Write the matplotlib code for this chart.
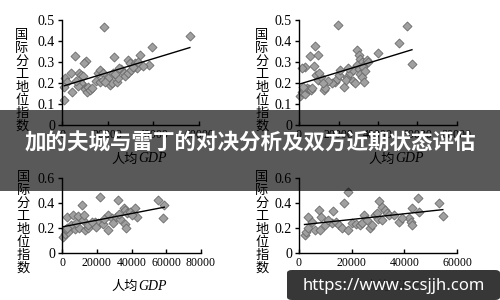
import numpy as np
import matplotlib
matplotlib.use('Agg')
import matplotlib.pyplot as plt
from matplotlib.patches import Rectangle, FancyBboxPatch

plt.rcParams['font.family'] = ['Liberation Serif', 'Noto Sans CJK SC']

# data (x = per-capita GDP, y = index)
tl_x = [18500, 56000, 39500, 34200, 22900, 5700, 10400, 9800, 38100, 29000, 29600, 32000,
        32700, 3900, 7500, 8400, 9000, 1300, 2000, 1000, 4200, 1000, 9200, 10000, 11000,
        11500, 12200, 13000, 8500, 7000, 6000, 15800, 16800, 17800, 15000, 16500, 18000,
        21000, 22000, 24000, 24500, 22200, 23000, 26000, 27000, 27500, 29000, 30000, 25000,
        31000, 20000, 19000, 33500, 35500]
tl_y = [0.465, 0.424, 0.37, 0.333, 0.325, 0.328, 0.306, 0.294, 0.286, 0.31, 0.296, 0.294,
        0.27, 0.249, 0.247, 0.238, 0.232, 0.224, 0.206, 0.18, 0.159, 0.119, 0.19, 0.17, 0.155,
        0.18, 0.165, 0.175, 0.2, 0.185, 0.21, 0.25, 0.262, 0.248, 0.21, 0.205, 0.214,
        0.19, 0.2, 0.205, 0.225, 0.25, 0.245, 0.268, 0.25, 0.232, 0.248, 0.26, 0.27,
        0.275, 0.225, 0.205, 0.3, 0.28]

tr_x = [19700, 54700, 50500, 40000, 57200, 7900, 5700, 9600, 2900, 1500, 7400, 8500, 9500,
        11000, 10000, 600, 1500, 2500, 3000, 4000, 5000, 6000, 6600, 2000, 12500, 13200,
        18300, 19000, 20000, 20700, 22600, 24300, 23800, 26000, 27500, 29400, 30200, 31000,
        31900, 29500, 30300, 31000, 32000, 32800, 33500, 34200, 35000, 32500, 33500, 16700,
        27500, 28500, 25000, 14500, 12000]
tr_y = [0.476, 0.471, 0.392, 0.344, 0.29, 0.376, 0.328, 0.333, 0.278, 0.27, 0.281, 0.24, 0.215,
        0.23, 0.25, 0.14, 0.155, 0.165, 0.15, 0.175, 0.17, 0.165, 0.176, 0.18, 0.167, 0.176,
        0.205, 0.22, 0.24, 0.26, 0.18, 0.23, 0.215, 0.25, 0.26, 0.357, 0.335, 0.315,
        0.3, 0.285, 0.265, 0.245, 0.23, 0.206, 0.29, 0.31, 0.3, 0.275, 0.255, 0.2,
        0.21, 0.2, 0.27, 0.21, 0.2]

bl_x = [21900, 32000, 55400, 58900, 58300, 11700, 2700, 6500, 9200, 35700, 36500, 37400,
        42000, 43000, 600, 1500, 3500, 2200, 7500, 10000, 13000, 15000, 19000, 21000, 23500,
        26500, 26500, 28500, 31000, 33400, 36000, 37000, 15000, 17300, 5000, 8000, 12000,
        24000, 29500, 33000, 39000, 40500, 12500, 3000, 19500]
bl_y = [0.45, 0.42, 0.423, 0.383, 0.281, 0.383, 0.29, 0.3, 0.295, 0.36, 0.34, 0.32,
        0.36, 0.29, 0.13, 0.15, 0.17, 0.19, 0.19, 0.2, 0.185, 0.2, 0.25, 0.24, 0.23,
        0.18, 0.3, 0.28, 0.29, 0.27, 0.23, 0.2, 0.22, 0.25, 0.22, 0.24, 0.26,
        0.27, 0.24, 0.31, 0.33, 0.3, 0.3, 0.2, 0.21]

br_x = [18600, 17000, 30500, 45200, 53000, 54600, 7500, 8500, 3400, 12800, 43000, 45400,
        31500, 32500, 33500, 34200, 29000, 30000, 31500, 29500, 2100, 2800, 3400, 6000, 8000,
        10000, 12500, 14000, 15000, 16500, 18500, 20000, 21500, 23000, 24500, 24000, 27000,
        27700, 37900, 41700, 42500, 43000, 36000, 39000, 11000, 5000, 26000]
br_y = [0.49, 0.397, 0.415, 0.437, 0.397, 0.297, 0.34, 0.29, 0.289, 0.335, 0.36, 0.33,
        0.37, 0.34, 0.32, 0.3, 0.3, 0.27, 0.26, 0.32, 0.14, 0.17, 0.2, 0.18, 0.18,
        0.22, 0.24, 0.245, 0.22, 0.2, 0.18, 0.24, 0.23, 0.22, 0.3, 0.24, 0.2,
        0.22, 0.25, 0.28, 0.25, 0.22, 0.3, 0.28, 0.26, 0.25, 0.26]

y_label = '国际分工地位指数'
x_label_cn = '人均'
x_label_en = 'GDP'
banner_text = '加的夫城与雷丁的对决分析及双方近期状态评估'
watermark = 'https://www.scsjjh.com'

W, H = 500, 300
fig = plt.figure(figsize=(5, 3), dpi=100)
fig.patch.set_facecolor('white')


def px_rect(x0, x1, y_top, y_bot):
    return [x0 / W, 1 - y_bot / H, (x1 - x0) / W, (y_bot - y_top) / H]


panels = [
    # x data, y data, axes rect, xmax, ymax, ytick step
    (tl_x, tl_y, px_rect(62, 199, 20, 125), 60000, 0.5, 0.1),
    (tr_x, tr_y, px_rect(299, 457, 20, 125), 80000, 0.5, 0.1),
    (bl_x, bl_y, px_rect(62, 201, 178, 252.7), 80000, 0.6, 0.2),
    (br_x, br_y, px_rect(299, 457, 178, 252.7), 60000, 0.6, 0.2),
]

for xs, ys, rect, xmax, ymax, ystep in panels:
    ax = fig.add_axes(rect)
    xs = np.array(xs)
    ys = np.array(ys)
    ax.scatter(xs, ys, marker='D', s=21, facecolor='#a0a0a0', edgecolor='#6a6a6a',
               linewidth=0.6, zorder=2, clip_on=False)
    k, b = np.polyfit(xs, ys, 1)
    lx = np.array([xs.min(), xs.max()])
    ax.plot(lx, k * lx + b, color='black', lw=1.0, zorder=3)
    ax.set_xlim(0, xmax)
    ax.set_ylim(0, ymax)
    ax.set_xticks(np.arange(0, xmax + 1, 20000))
    yt = np.round(np.arange(0, ymax + 1e-9, ystep), 2)
    ax.set_yticks(yt)
    ax.set_yticklabels(['0' if v == 0 else f'{v:.1f}' for v in yt])
    for s in ['top', 'right']:
        ax.spines[s].set_visible(False)
    for s in ['left', 'bottom']:
        ax.spines[s].set_linewidth(1.0)
    ax.tick_params(axis='y', direction='out', length=3, width=1, labelsize=10, pad=2)
    ax.tick_params(axis='x', direction='in', length=3, width=1, labelsize=8.5, pad=3)
    ax.patch.set_alpha(0)

# vertical y labels and x labels
for cx, cy in [(22, 81), (262, 81), (23, 223), (262, 223)]:
    fig.text(cx / W, 1 - cy / H, '\n'.join(y_label), ha='center', va='center',
             fontsize=9.5, linespacing=1.0, family=['Noto Sans CJK SC'])
for cx, cy in [(137, 159), (394, 159), (137, 286), (390, 286)]:
    fig.text((cx + 1) / W, 1 - cy / H, x_label_cn, ha='right', va='center',
             fontsize=9.5, family=['Noto Sans CJK SC'])
    fig.text((cx + 1) / W, 1 - cy / H, x_label_en, ha='left', va='center',
             fontsize=10, style='italic', family=['Liberation Serif'])

# dark translucent banner with title
fig.add_artist(Rectangle((0, 1 - 191 / H), 1, 81 / H, transform=fig.transFigure,
                         facecolor='black', alpha=0.65, edgecolor='none', zorder=10))
fig.text(0.5, 1 - 143 / H, banner_text, ha='center', va='center', color='white',
         fontsize=15.5, fontweight='bold', family=['Noto Sans CJK SC'], zorder=11)

# watermark box
fig.add_artist(FancyBboxPatch((287 / W, 0), 1 - 287 / W, 30 / H, transform=fig.transFigure,
                              boxstyle='round,pad=0,rounding_size=0.01',
                              facecolor='#262626', alpha=0.92, edgecolor='none', zorder=12))
fig.text(394 / W, 1 - 286 / H, watermark, ha='center', va='center', color='white',
         fontsize=12, fontweight='bold', family=['Noto Sans'], zorder=13)

fig.savefig('out.png', dpi=100)
